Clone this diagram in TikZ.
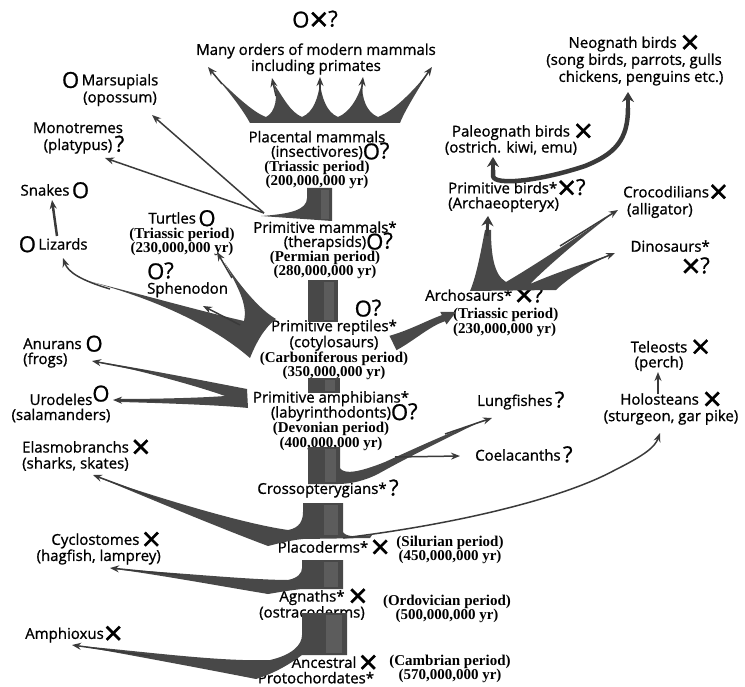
\documentclass[tikz,border=0pt]{standalone}
\usepackage{fontspec}
\setmainfont{Open Sans}[FakeBold=1]
\newfontfamily\perfont{Liberation Serif}
\usetikzlibrary{arrows.meta}

\definecolor{trunkgray}{HTML}{484848}
\definecolor{stripegray}{HTML}{5C5C5C}
\definecolor{arrowgray}{HTML}{3A3A3A}

\newcommand\lfont{\fontsize{15}{15}\selectfont}
\newcommand\per[1]{{\perfont\bfseries\fontsize{15}{14}\selectfont #1}}
\newcommand\yes{\smash{\raisebox{-2.5pt}{\fontsize{22}{14}\selectfont O}}}
\newcommand\no{\smash{\raisebox{-6pt}{\fontsize{33}{14}\selectfont ×}}}
\newcommand\qm{\smash{\raisebox{-1.5pt}{\fontsize{22}{14}\selectfont ?}}}

\begin{document}
\begin{tikzpicture}[x=1pt,y=-1pt,
    lbl/.style={font=\lfont, align=center, inner sep=0pt},
    arr/.style={draw=arrowgray, line width=1.5pt, -{Stealth[length=9pt,width=7pt]}},
    arrbig/.style={draw=arrowgray, line width=4pt, -{Stealth[length=10pt,width=12pt]}},
    trunk/.style={fill=trunkgray},
    stripe/.style={fill=stripegray}]
                \useasboundingbox (0,0) rectangle (745,687);

                %main line
                \node[lbl] (topsym) at (315,25) {\yes\no\qm};
                \node[lbl, font=\fontsize{15}{16}\selectfont] (modern) at (316,59) {Many orders of modern mammals\\including primates};
                \node[lbl, font=\fontsize{15}{14.5}\selectfont] (placental) at (317,160) {Placental mammals\\(insectivores)\rlap{\yes\qm}\\\per{(Triassic period)}\\\per{(200,000,000 yr)}};
                \node[lbl, font=\fontsize{15}{14.2}\selectfont] (primmam) at (325,250) {Primitive mammals*\\(therapsids)\rlap{\yes\qm}\\\per{(Permian period)}\\\per{(280,000,000 yr)}};
                \node[lbl] (repsym) at (368,314) {\yes\qm};
                \node[lbl, font=\fontsize{15}{13.2}\selectfont] (primrep) at (334,350) {Primitive reptiles*\\(cotylosaurs)\\\per{(Carboniferous period)}\\\per{(350,000,000 yr)}};
                \node[lbl, font=\fontsize{15}{15}\selectfont] (primamp) at (331,421) {Primitive amphibians*\\(labyrinthodonts)\rlap{\yes\qm}\\\per{(Devonian period)}\\\per{(400,000,000 yr)}};
                \node[lbl] (crosso) at (322,490) {Crossopterygians*\rlap{\,\qm}};
                \node[lbl] (placo) at (323,547) {Placoderms*\rlap{\,\no}};
                \node[lbl, font=\fontsize{15}{14}\selectfont] (silur) at (450,550) {\per{(Silurian period)}\\\per{(450,000,000 yr)}};
                \node[lbl, font=\fontsize{15}{14}\selectfont] (agnath) at (312,605) {Agnaths*\rlap{\ \no}\\(ostracoderms)};
                \node[lbl, font=\fontsize{15}{14}\selectfont] (ordo) at (447,609) {\per{(Ordovician period)}\\\per{(500,000,000 yr)}};
                \node[lbl, font=\fontsize{15}{15.5}\selectfont] (ancest) at (316,670) {\hspace*{16pt}Ancestral\rlap{\,\no}\\Protochordates*};
                \node[lbl, font=\fontsize{15}{14}\selectfont] (cambr) at (450,669) {\per{(Cambrian period)}\\\per{(570,000,000 yr)}};

                %left side
                \node[lbl, font=\fontsize{15}{17}\selectfont] (marsup) at (120,90) {\llap{\yes\,}Marsupials\\(opossum)};
                \node[lbl, font=\fontsize{15}{17}\selectfont] (monot) at (78,138) {Monotremes\\(platypus)\rlap{\,\qm}};
                \node[lbl] (snake) at (45,190) {Snakes\rlap{\,\yes}};
                \node[lbl] (lizard) at (63,244) {\llap{\yes\,}Lizards};
                \node[lbl, font=\fontsize{15}{14.5}\selectfont] (turtle) at (182,234) {Turtles\,\yes\\\per{(Triassic period)}\\\per{(230,000,000 yr)}};
                \node[lbl, align=left, anchor=west, font=\fontsize{15}{17}\selectfont] (spheno) at (147,287) {\yes\qm\\Sphenodon};
                \node[lbl, align=left, anchor=west, font=\fontsize{15}{15}\selectfont] (anuran) at (23,353) {Anurans\ \yes\\(frogs)};
                \node[lbl, font=\fontsize{15}{15}\selectfont] (urodel) at (61,408) {Urodeles\rlap{\raisebox{6pt}{\yes}}\\(salamanders)};
                \node[lbl, align=left, anchor=west, font=\fontsize{15}{16}\selectfont] (elasmo) at (22,456) {Elasmobranchs\,\no\\(sharks, skates)};
                \node[lbl, align=right, anchor=east, font=\fontsize{15}{15}\selectfont] (cyclo) at (161,549) {Cyclostomes\,\no\\(hagfish, lamprey)};
                \node[lbl, anchor=west] (amphi) at (25,635) {Amphioxus\no};

                %right side
                \node[lbl, font=\fontsize{15}{17}\selectfont] (neog) at (634,61) {Neognath birds\ \no\\(song birds, parrots, gulls\\\hspace*{14pt}chickens, penguins etc.)};
                \node[lbl, font=\fontsize{15}{16}\selectfont] (paleog) at (511,140) {Paleognath birds\rlap{\ \no}\\(ostrich. kiwi, emu)};
                \node[lbl, align=left, anchor=west, font=\fontsize{15}{15}\selectfont] (primbird) at (448,197) {Primitive birds*\no\qm\\(Archaeopteryx)};
                \node[lbl, align=left, anchor=west, font=\fontsize{15}{17}\selectfont] (croco) at (623,202) {Crocodilians\no\\\ (alligator)};
                \node[lbl, align=right, anchor=east, font=\fontsize{15}{20}\selectfont] (dino) at (710,256) {Dinosaurs*\\\no\qm};
                \node[lbl, align=left, anchor=west, font=\fontsize{15}{13}\selectfont] (archo) at (425,313) {Archosaurs*\,\no\qm\\[5pt]\hspace*{28pt}\per{(Triassic period)}\\\hspace*{28pt}\per{(230,000,000 yr)}};
                \node[lbl, anchor=west] (lung) at (477,402) {Lungfishes\,\qm};
                \node[lbl, anchor=west] (coela) at (475,455) {Coelacanths\,\qm};
                \node[lbl, font=\fontsize{15}{15}\selectfont] (teleo) at (659,356) {Teleosts\rlap{\ \no}\\(perch)};
                \node[lbl, font=\fontsize{15}{16.5}\selectfont] (holost) at (671,409) {Holosteans\ \no\\(sturgeon, gar pike)};

                %arrow tips
                \coordinate (tMars) at (152,115);
                \coordinate (tMono) at (105,158);
                \coordinate (tSnake) at (52,200);
                \coordinate (tTurt) at (217,252);
                \coordinate (tSphe) at (203,306);
                \coordinate (tLiz) at (63,258);
                \coordinate (tAnur) at (92,361);
                \coordinate (tUrod) at (113,400);
                \coordinate (tElas) at (93,475);
                \coordinate (tCycl) at (110,568);
                \coordinate (tAmph) at (72,645);
                \coordinate (tArch) at (456,312);
                \coordinate (tBird) at (488,216);
                \coordinate (tCroc) at (618,210);
                \coordinate (tDino) at (615,253);
                \coordinate (tPaleo) at (493,157);
                \coordinate (tNeog) at (628,92);
                \coordinate (tLung) at (492,418);
                \coordinate (tCoel) at (460,456);
                \coordinate (tHolo) at (660,433);
                \coordinate (tTele) at (658,372);
                %forks
                \coordinate (jMam) at (264,213);
                \coordinate (jLiz) at (57,236);
                \coordinate (jHolo) at (343,538);
                \coordinate (jTele) at (658,394);

                %trunk
                \fill[trunk] (307,188) -- (332,188) -- (332,221) -- (261,216)
                    .. controls (290,214) and (307,210) .. (307,198) -- cycle;
                \fill[trunk] (308,280) rectangle (338,322);
                \fill[trunk] (308,378) rectangle (340,393);
                \fill[trunk] (308,447) -- (340,447) -- (340,468)
                    .. controls (344,475) and (360,472) .. (385,462)
                    .. controls (420,446) and (455,430) .. (484,420)
                    .. controls (455,434) and (410,456) .. (378,474)
                    .. controls (360,483) and (345,484) .. (338,484) -- (308,484) -- cycle;
                \fill[trunk] (303,503) -- (343,503) -- (343,532)
                    .. controls (346,537) and (356,537) .. (372,535) -- (370,538) -- (303,539)
                    .. controls (292,540) and (280,543) .. (268,546)
                    .. controls (220,528) and (160,503) .. (100,478)
                    .. controls (165,500) and (245,524) .. (288,530)
                    .. controls (300,528) and (303,520) .. (303,512) -- cycle;
                \fill[trunk] (302,560) -- (343,560) -- (343,589) -- (302,589)
                    .. controls (292,590) and (280,592) .. (268,594)
                    .. controls (220,586) and (160,575) .. (115,569)
                    .. controls (170,572) and (250,580) .. (288,580)
                    .. controls (298,578) and (302,573) .. (302,568) -- cycle;
                \fill[trunk] (302,613) -- (347,613) -- (347,655) -- (302,655)
                    .. controls (290,664) and (275,673) .. (256,679)
                    .. controls (200,668) and (130,655) .. (80,646)
                    .. controls (140,651) and (220,662) .. (270,660)
                    .. controls (292,655) and (302,645) .. (302,635) -- cycle;
                \foreach \xa/\xb/\ya/\yb in {321/329/190/219, 324/334/282/320, 325/335/380/391,
                        325/336/449/482, 324/338/505/535, 324/338/562/587, 326/342/615/653}
                    \fill[stripe] (\xa,\ya) rectangle (\xb,\yb);

                %placental fan
                \fill[trunk] (250,123)
                    .. controls (243,110) and (228,90) .. (213,74)
                    .. controls (232,92) and (252,112) .. (266,117)
                    .. controls (276,112) and (278,96) .. (274,84)
                    .. controls (283,97) and (290,112) .. (302,117)
                    .. controls (314,112) and (318,97) .. (320,84)
                    .. controls (322,97) and (326,112) .. (338,117)
                    .. controls (350,112) and (358,98) .. (362,84)
                    .. controls (362,98) and (366,112) .. (378,117)
                    .. controls (395,110) and (412,92) .. (428,73)
                    .. controls (418,90) and (405,110) .. (400,123) -- cycle;
                \foreach \xa/\ya/\xb/\yb in {222/84/208/67, 276/96/272/78, 320/96/320/77, 361/96/363/77, 420/84/432/67}
                    \draw[arr] (\xa,\ya) -- (\xb,\yb);

                %reptile fan
                \fill[trunk] (276,319)
                    .. controls (260,310) and (240,286) .. (225,263)
                    .. controls (237,286) and (248,304) .. (244,321)
                    .. controls (200,311) and (140,294) .. (88,281)
                    .. controls (140,295) and (205,319) .. (250,358)
                    .. controls (256,343) and (264,328) .. (276,319) -- cycle;
                \draw[arr] (232,278) -- (tTurt);
                \draw[arr] (240,325) -- (tSphe);
                \draw[arr] (110,289) .. controls (80,280) and (68,272) .. (tLiz);
                \draw[arr, line width=2.5pt] (jLiz) -- (tSnake);

                %archosaurs
                \fill[trunk] (389.5,335.8) .. controls (410,330) and (428,320) .. (441.9,315.1)
                    -- (440.3,311.9) -- (tArch) -- (446.5,324.5) -- (444.9,321.3)
                    .. controls (430,326) and (415,340) .. (396.5,350.2) -- cycle;
                \fill[trunk] (470,291)
                    .. controls (477,275) and (482,245) .. (485,230) -- (491,230)
                    .. controls (491,255) and (494,275) .. (506,282)
                    .. controls (540,262) and (578,236) .. (612,214)
                    .. controls (578,240) and (548,266) .. (530,284)
                    .. controls (558,272) and (588,262) .. (610,255)
                    .. controls (588,265) and (566,280) .. (556,290) -- cycle;
                \draw[arrbig, line width=3pt] (487,236) -- (tBird);
                \draw[arr] (560,246) -- (tCroc);
                \draw[arr] (580,267) -- (tDino);

                %birds
                \draw[draw=arrowgray, line width=4.5pt] (493,170) -- (493,176)
                    .. controls (494,186) and (540,181) .. (585,166)
                    .. controls (615,154) and (628,140) .. (628,108);
                \draw[arrbig] (493,172) -- (tPaleo);
                \draw[arrbig] (628,110) -- (tNeog);

                %mammals
                \draw[arr] (jMam) -- (tMars);
                \draw[arr] (jMam) -- (tMono);

                %amphibians
                \fill[trunk] (247,389)
                    .. controls (200,380) and (150,370) .. (100,362)
                    .. controls (150,373) and (200,387) .. (225,396)
                    .. controls (200,398) and (150,399) .. (120,399) -- (120,402)
                    .. controls (160,403) and (220,405) .. (248,408) -- cycle;
                \draw[arr] (150,372) -- (tAnur);
                \draw[arr] (160,401) -- (tUrod);

                %fishes
                \draw[arr] (445,434) -- (tLung);
                \draw[arr] (395,457) -- (tCoel);
                \draw[arr] (jHolo) .. controls (450,525) and (560,500) .. (615,470)
                    .. controls (645,455) and (655,447) .. (tHolo);
                \draw[arr] (jTele) -- (tTele);
                \draw[arr] (160,500) -- (tElas);
                \draw[arr] (180,575) -- (tCycl);
                \draw[arr] (150,656) -- (tAmph);
            \end{tikzpicture}
\end{document}
